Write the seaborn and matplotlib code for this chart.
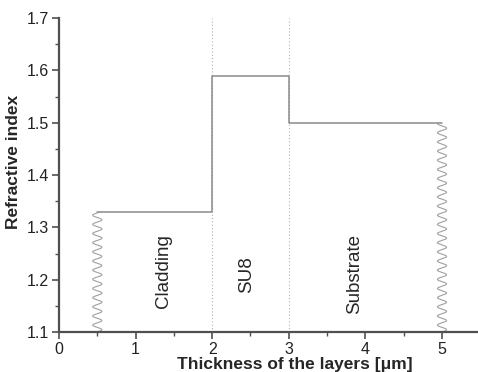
import numpy as np
import pandas as pd
import matplotlib
matplotlib.use("Agg")
import matplotlib.pyplot as plt
from matplotlib.ticker import MultipleLocator
import seaborn as sns

# layer boundaries and refractive indices
edges = [0.5, 2, 3, 5]
n_index = [1.33, 1.59, 1.5, 1.5]
boundaries = [2, 3]
layer_names = ["Cladding", "SU8", "Substrate"]
label_x = [1.36, 2.45, 3.86]
label_y = [1.217, 1.21, 1.21]

sns.set_style("ticks")
plt.rcParams["font.family"] = ["Liberation Sans", "DejaVu Sans"]

fig = plt.figure(figsize=(4.78, 3.72), dpi=100)
ax = fig.add_axes([59 / 478, 40 / 372, 419 / 478, 314 / 372])

df = pd.DataFrame({"x": edges, "n": n_index})
sns.lineplot(data=df, x="x", y="n", ax=ax, drawstyle="steps-post",
             color="#8a8a8a", lw=1.1, estimator=None, sort=False)

# dotted layer boundaries
for b in boundaries:
    ax.axvline(b, color="#b0b0b0", ls=(0, (1, 2)), lw=0.8, zorder=0)

# wavy break lines at both ends
def wavy(x0, y_top):
    yy = np.linspace(1.1, y_top, 400)
    xx = x0 + 0.06 * np.sin(2 * np.pi * (yy - 1.1) / 0.0175)
    ax.plot(xx, yy, color="#a0a0a0", lw=0.8)

wavy(edges[0], n_index[0])
wavy(edges[-1], n_index[-1])

for name, lx, ly in zip(layer_names, label_x, label_y):
    ax.text(lx, ly, name, rotation=90, ha="center", va="center", fontsize=13.5)

ax.set_xlim(0, 5.47)
ax.set_ylim(1.1, 1.7)
ax.xaxis.set_major_locator(MultipleLocator(1))
ax.xaxis.set_minor_locator(MultipleLocator(0.5))
ax.yaxis.set_minor_locator(MultipleLocator(0.05))
ax.set_yticks(np.arange(1.1, 1.71, 0.1))
ax.set_yticklabels([f"{v:.1f}" for v in np.arange(1.1, 1.71, 0.1)])

ax.set_xlabel("Thickness of the layers [\u03bcm]", fontsize=12.5, fontweight="bold", labelpad=0)
ax.set_ylabel("Refractive index", fontsize=12.5, fontweight="bold", labelpad=4)
ax.xaxis.label.set_x(0.563)
ax.yaxis.label.set_y(0.541)

sns.despine(ax=ax)
for s in ["left", "bottom"]:
    ax.spines[s].set_color("#505050")
    ax.spines[s].set_linewidth(1.6)
ax.tick_params(which="major", direction="out", length=5, width=1.2, color="#505050",
               labelsize=11.5, labelcolor="#222222", pad=2)
ax.tick_params(which="minor", direction="out", length=3, width=1.0, color="#505050")

fig.savefig("out.png", dpi=100)
